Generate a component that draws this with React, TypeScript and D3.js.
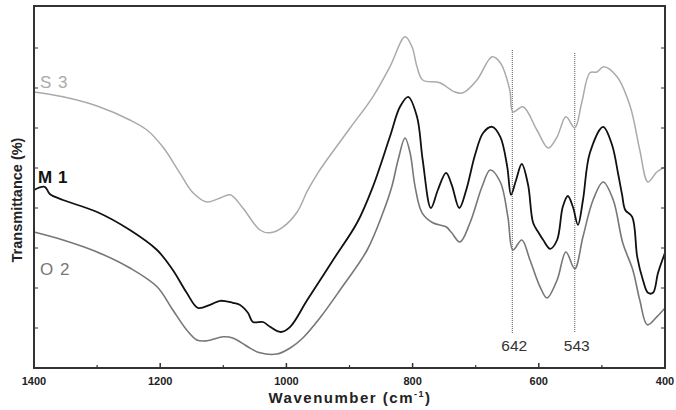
import React from "react";
import * as d3 from "d3";

const S3_WN = [1400, 1354, 1300, 1248, 1221, 1196, 1169, 1148, 1126, 1105, 1089, 1069, 1042, 1026, 1005, 983, 967, 950, 936, 899, 863, 836, 812, 801, 793, 784, 757, 733, 720, 698, 674, 661, 646, 641, 625, 603, 585, 571, 557, 543, 532, 519, 508, 497, 476, 455, 440, 427, 413, 400];
const S3_T = [6.9, 6.78, 6.55, 6.2, 5.95, 5.53, 4.88, 4.38, 4.15, 4.25, 4.33, 4.0, 3.45, 3.38, 3.53, 3.9, 4.42, 4.88, 5.2, 6.0, 6.78, 7.53, 8.28, 8.03, 7.53, 7.2, 7.13, 6.9, 6.88, 7.2, 7.78, 7.63, 6.95, 6.4, 6.53, 5.95, 5.5, 5.78, 6.28, 6.0, 6.63, 7.38, 7.4, 7.53, 7.28, 6.53, 5.45, 4.65, 4.9, 5.03];

const M1_WN = [1400, 1383, 1375, 1354, 1300, 1248, 1205, 1180, 1158, 1140, 1121, 1105, 1085, 1074, 1061, 1053, 1037, 1026, 1009, 994, 967, 926, 888, 863, 836, 820, 807, 793, 784, 771, 760, 747, 738, 726, 715, 701, 688, 674, 661, 650, 644, 636, 627, 617, 609, 601, 593, 582, 571, 562, 554, 546, 538, 530, 519, 498, 484, 474, 468, 463, 452, 444, 435, 427, 419, 411, 400];
const M1_T = [4.45, 4.53, 4.35, 4.2, 3.9, 3.45, 2.95, 2.45, 1.88, 1.5, 1.58, 1.68, 1.63, 1.58, 1.38, 1.15, 1.15, 1.03, 0.9, 1.03, 1.7, 2.7, 3.63, 4.53, 5.78, 6.53, 6.78, 6.28, 5.2, 4.0, 4.45, 4.88, 4.58, 4.0, 4.45, 5.33, 5.88, 6.03, 5.78, 5.03, 4.33, 4.7, 5.1, 4.58, 3.63, 3.4, 3.2, 2.98, 3.2, 4.03, 4.3, 4.03, 3.58, 4.2, 5.38, 6.03, 5.58, 4.83, 4.33, 3.95, 3.78, 2.78, 2.2, 1.88, 1.88, 2.38, 2.88];

const O2_WN = [1400, 1354, 1300, 1248, 1205, 1180, 1158, 1142, 1126, 1100, 1085, 1066, 1058, 1042, 1015, 994, 974, 947, 915, 872, 847, 833, 823, 812, 804, 796, 785, 768, 747, 738, 725, 709, 690, 677, 661, 649, 641, 627, 614, 598, 587, 571, 557, 543, 530, 514, 498, 482, 467, 451, 440, 428, 413, 400];
const O2_T = [3.4, 3.2, 2.9, 2.5, 2.03, 1.45, 0.95, 0.7, 0.68, 0.78, 0.75, 0.58, 0.5, 0.38, 0.35, 0.5, 0.75, 1.25, 1.95, 2.95, 3.88, 4.53, 5.2, 5.75, 5.38, 4.53, 3.88, 3.63, 3.53, 3.38, 3.15, 3.63, 4.53, 4.95, 4.65, 3.78, 2.95, 3.2, 2.7, 2.03, 1.75, 2.2, 2.9, 2.48, 3.28, 4.2, 4.65, 4.2, 3.13, 2.45, 1.7, 1.08, 1.28, 1.5];

const X_MAJOR = [1400, 1200, 1000, 800, 600, 400];
const X_MINOR = [1300, 1100, 900, 700, 500];
const Y_TICKS = [1, 2, 3, 4, 5, 6, 7, 8];
const MARKERS = [642, 543];

const W = 676;
const H = 410;
const L = 34, R = 665, T = 6, B = 368;

export default function App() {
  const x = d3.scaleLinear().domain([1400, 400]).range([L, R]);
  const y = d3.scaleLinear().domain([0, 9.05]).range([B, T]);
  const line = d3
    .line<[number, number]>()
    .x((d) => x(d[0]))
    .y((d) => y(d[1]))
    .curve(d3.curveCatmullRom.alpha(0.5));
  const mk = (wn: number[], t: number[]) => line(wn.map((w, i) => [w, t[i]] as [number, number])) || "";
  const font = "'Liberation Sans', Arial, Helvetica, sans-serif";

  return (
    <svg width={W} height={H} style={{ position: "absolute", left: 0, top: 0, background: "#fff" }} fontFamily={font}>
      {MARKERS.map((m) => (
        <line key={m} x1={x(m)} x2={x(m)} y1={m === 642 ? 50 : 53} y2={333} stroke="#555" strokeWidth={1} strokeDasharray="1,1" />
      ))}
      <path d={mk(S3_WN, S3_T)} fill="none" stroke="#aaaaaa" strokeWidth={1.5} />
      <path d={mk(O2_WN, O2_T)} fill="none" stroke="#777777" strokeWidth={1.6} />
      <path d={mk(M1_WN, M1_T)} fill="none" stroke="#111111" strokeWidth={1.8} />
      <rect x={L} y={T} width={R - L} height={B - T} fill="none" stroke="#333" strokeWidth={2} />
      {X_MAJOR.map((v) => (
        <g key={v}>
          <line x1={x(v)} x2={x(v)} y1={B} y2={B - 5} stroke="#333" strokeWidth={1.5} />
          <text x={x(v)} y={385} textAnchor="middle" fontSize={11} fontWeight="bold" fill="#222">
            {v}
          </text>
        </g>
      ))}
      {X_MINOR.map((v) => (
        <line key={v} x1={x(v)} x2={x(v)} y1={B} y2={B - 3} stroke="#333" strokeWidth={1.2} />
      ))}
      {Y_TICKS.map((v) => (
        <g key={v}>
          <line x1={L} x2={L + 4} y1={y(v)} y2={y(v)} stroke="#333" strokeWidth={1} />
          <line x1={R} x2={R - 4} y1={y(v)} y2={y(v)} stroke="#333" strokeWidth={1} />
        </g>
      ))}
      {MARKERS.map((m) => (
        <text key={m} x={x(m) + 2} y={351} textAnchor="middle" fontSize={15.5} fill="#333">
          {m}
        </text>
      ))}
      <text x={40} y={88} fontSize={17} fill="#aaaaaa" letterSpacing={1}>S 3</text>
      <text x={38} y={183} fontSize={17} fontWeight="bold" fill="#111" letterSpacing={0.5}>M 1</text>
      <text x={40} y={275} fontSize={17} fill="#777777" letterSpacing={1}>O 2</text>
      <text
        transform={`translate(22,${200}) rotate(-90)`}
        textAnchor="middle"
        fontSize={14.5}
        fontWeight="bold"
        fill="#222"
      >
        Transmittance (%)
      </text>
      <text x={350} y={403} textAnchor="middle" fontSize={15} fontWeight="bold" fill="#222" letterSpacing={1.5}>
        Wavenumber (cm
        <tspan dy={-6} fontSize={9}>-1</tspan>
        <tspan dy={6}>)</tspan>
      </text>
    </svg>
  );
}
